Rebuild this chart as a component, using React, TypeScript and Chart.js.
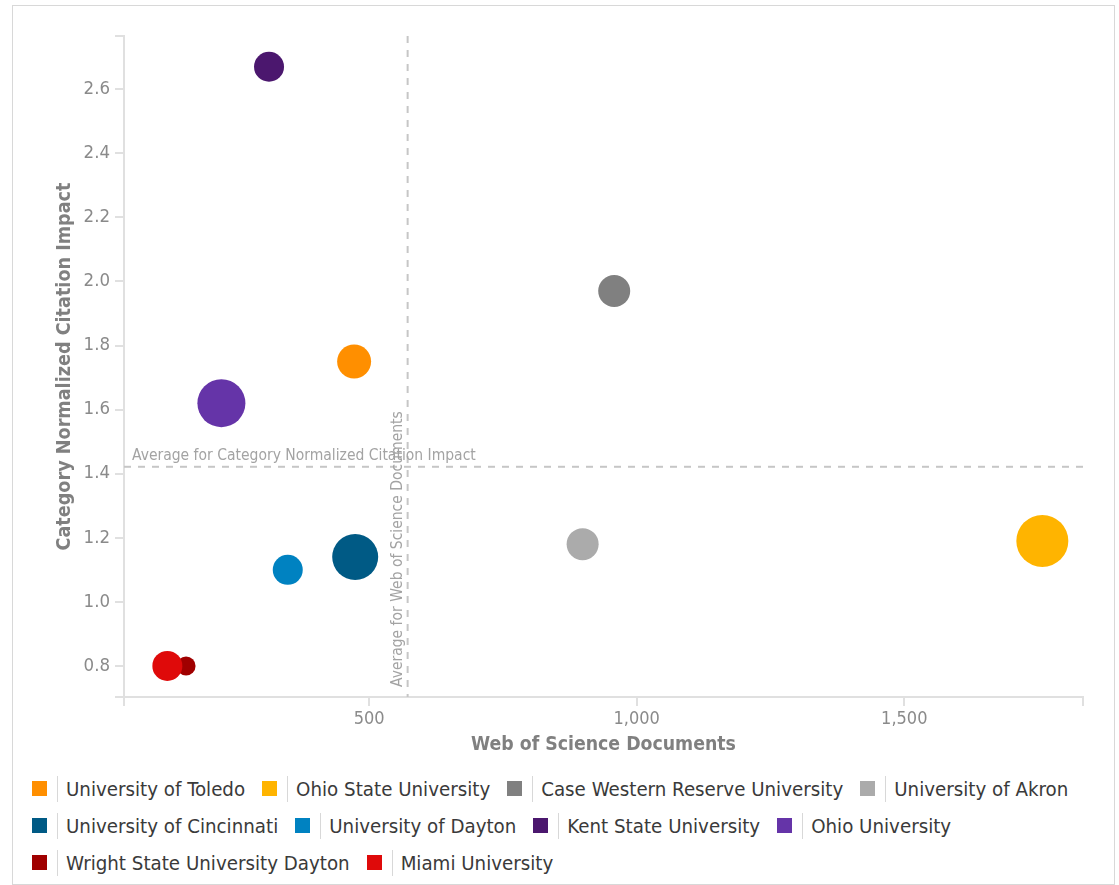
import React, { useEffect, useRef } from "react";
import { Chart, registerables } from "chart.js";

Chart.register(...registerables);

const universities = [
  "University of Toledo",
  "Ohio State University",
  "Case Western Reserve University",
  "University of Akron",
  "University of Cincinnati",
  "University of Dayton",
  "Kent State University",
  "Ohio University",
  "Wright State University Dayton",
  "Miami University",
];
const documents = [472, 1758, 958, 899, 474, 348, 313, 224, 158, 123];
const cnci = [1.75, 1.19, 1.97, 1.18, 1.14, 1.1, 2.67, 1.62, 0.8, 0.8];
const bubbleSize = [17, 26, 16, 16, 23, 15, 15, 24, 9.5, 15];
const colors = [
  "#ff8f00",
  "#ffb400",
  "#808080",
  "#ababab",
  "#005a85",
  "#0082c1",
  "#4b176e",
  "#6534a8",
  "#a00000",
  "#df0a0a",
];
const avgDocuments = 572;
const avgCnci = 1.4215;
const avgCnciLabel = "Average for Category Normalized Citation Impact";
const avgDocsLabel = "Average for Web of Science Documents";
const xTitle = "Web of Science Documents";
const yTitle = "Category Normalized Citation Impact";
const xMin = 42;
const xMax = 1834;
const xTickValues = [500, 1000, 1500];
const yMin = 0.703;
const yMax = 2.766;
const yTickValues = [0.8, 1.0, 1.2, 1.4, 1.6, 1.8, 2.0, 2.2, 2.4, 2.6];

const FONT = '"DejaVu Sans Condensed", "Liberation Sans Narrow", "DejaVu Sans", sans-serif';

const avgPlugin = {
  id: "avgLines",
  beforeDatasetsDraw(chart: any) {
    const { ctx, chartArea, scales } = chart;
    const px = scales.x.getPixelForValue(avgDocuments);
    const py = scales.y.getPixelForValue(avgCnci);
    ctx.save();
    ctx.strokeStyle = "#c6c6c6";
    ctx.lineWidth = 2;
    ctx.setLineDash([7, 7]);
    ctx.beginPath();
    ctx.moveTo(chartArea.left, py);
    ctx.lineTo(chartArea.right, py);
    ctx.stroke();
    ctx.beginPath();
    ctx.moveTo(px, chartArea.top);
    ctx.lineTo(px, chartArea.bottom);
    ctx.stroke();
    ctx.setLineDash([]);
    ctx.fillStyle = "#a3a3a3";
    ctx.font = "15.5px " + FONT;
    ctx.textAlign = "left";
    ctx.textBaseline = "alphabetic";
    ctx.fillText(avgCnciLabel, chartArea.left + 8, py - 6.5);
    ctx.translate(px - 6, chartArea.bottom - 10);
    ctx.rotate(-Math.PI / 2);
    ctx.fillText(avgDocsLabel, 0, 0);
    ctx.restore();
  },
};

export default function App() {
  const canvasRef = useRef<HTMLCanvasElement>(null);

  useEffect(() => {
    const datasets = universities.map((name, i) => ({
      label: name,
      data: [{ x: documents[i], y: cnci[i], r: bubbleSize[i] }],
      backgroundColor: colors[i],
      borderColor: colors[i],
      borderWidth: 0,
      order: name === "Wright State University Dayton" ? 1 : 0,
    }));
    const axisColor = "#e0e0e0";
    const chart = new Chart(canvasRef.current as HTMLCanvasElement, {
      type: "bubble",
      data: { datasets },
      plugins: [avgPlugin],
      options: {
        responsive: false,
        animation: false,
        devicePixelRatio: 1,
        layout: { padding: { left: 0, right: 31, top: 30, bottom: 0 } },
        plugins: { legend: { display: false }, tooltip: { enabled: false } },
        scales: {
          x: {
            type: "linear",
            min: xMin,
            max: xMax,
            afterFit: (s: any) => {
              s.height = 64;
            },
            afterBuildTicks: (s: any) => {
              s.ticks = [xMin, ...xTickValues, xMax].map((value) => ({ value }));
            },
            ticks: {
              autoSkip: false,
              maxRotation: 0,
              padding: 3,
              color: "#8a8a8a",
              font: { family: FONT, size: 18 },
              callback: (v: any) => (xTickValues.includes(Number(v)) ? Number(v).toLocaleString("en-US") : ""),
            },
            grid: { drawOnChartArea: false, drawTicks: true, tickLength: 9, color: axisColor, lineWidth: 2 },
            border: { display: true, color: axisColor, width: 2 },
            title: {
              display: true,
              text: xTitle,
              color: "#808080",
              font: { family: FONT, size: 19.3, weight: "bold" },
              padding: { top: 0, bottom: 4.5 },
            },
          },
          y: {
            type: "linear",
            min: yMin,
            max: yMax,
            afterFit: (s: any) => {
              s.width = 111;
            },
            afterBuildTicks: (s: any) => {
              s.ticks = [yMin, ...yTickValues, yMax].map((value) => ({ value }));
            },
            ticks: {
              autoSkip: false,
              padding: 5,
              color: "#8a8a8a",
              font: { family: FONT, size: 18.5 },
              callback: (v: any) => (yTickValues.includes(Number(v)) ? Number(v).toFixed(1) : ""),
            },
            grid: { drawOnChartArea: false, drawTicks: true, tickLength: 9, color: axisColor, lineWidth: 2 },
            border: { display: true, color: axisColor, width: 2 },
            title: {
              display: true,
              text: yTitle,
              color: "#808080",
              font: { family: FONT, size: 19.6, weight: "bold" },
              padding: { top: 40, bottom: 0 },
            },
          },
        },
      } as any,
    });
    return () => chart.destroy();
  }, []);

  const rows: number[][] = [];
  for (let i = 0; i < universities.length; i += 4) {
    rows.push(universities.slice(i, i + 4).map((_, k) => i + k));
  }

  return (
    <div
      style={{
        position: "absolute",
        left: 12,
        top: 5,
        width: 1101,
        height: 878,
        border: "1px solid #d8d8d8",
        background: "#fff",
      }}
    >
      <canvas ref={canvasRef} width={1101} height={755} style={{ display: "block", width: 1101, height: 755 }} />
      <div style={{ position: "absolute", left: 19, top: 764 }}>
        {rows.map((row, ri) => (
          <div key={ri} style={{ display: "flex", alignItems: "center", height: 37 }}>
            {row.map((idx) => (
              <div key={idx} style={{ display: "flex", alignItems: "center", marginRight: 17 }}>
                <span style={{ width: 15, height: 15, background: colors[idx], display: "inline-block" }} />
                <span style={{ width: 1, height: 26, background: "#d8d8d8", marginLeft: 10, marginRight: 8, display: "inline-block" }} />
                <span style={{ fontFamily: FONT, fontSize: 20.3, color: "#3a3a3a", whiteSpace: "nowrap", lineHeight: "24px" }}>
                  {universities[idx]}
                </span>
              </div>
            ))}
          </div>
        ))}
      </div>
    </div>
  );
}
